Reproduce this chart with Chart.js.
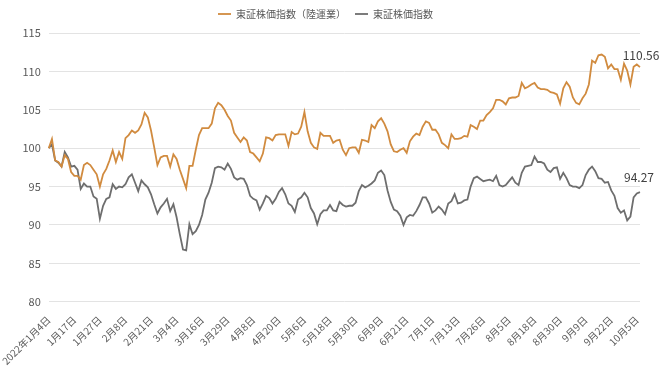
<!DOCTYPE html>
<html>
<head>
<meta charset="utf-8">
<script src="https://cdn.jsdelivr.net/npm/chart.js@4.4.0/dist/chart.umd.min.js"></script>
<style>
html,body{margin:0;padding:0;background:#fff;}
#wrap{width:660px;height:371px;}
</style>
</head>
<body>
<div id="wrap"><canvas id="c" width="660" height="371"></canvas></div>
<script>
// trading days 2022/1/4 ~ 10/6 (TSE holidays excluded)
const startDate = '2022-01-04';
const dayCount = 186;
const holidays = ['1-10','2-11','2-23','3-21','4-29','5-3','5-4','5-5','7-18','8-11','9-19','9-23'];

const seriesNames = ['東証株価指数（陸運業）','東証株価指数'];

const rikuun = [
100.0,101.2,98.4,98.2,97.6,99.1,98.6,96.9,96.4,96.4,
95.9,97.8,98.1,97.8,97.2,96.6,95.0,96.6,97.3,98.4,
99.7,98.2,99.5,98.6,101.3,101.7,102.3,102.0,102.3,103.1,
104.6,104.0,102.3,100.1,97.8,98.8,99.0,99.0,97.6,99.2,
98.6,97.2,96.0,94.8,97.7,97.7,99.8,101.7,102.6,102.6,
102.6,103.2,105.2,105.9,105.6,105.0,104.2,103.6,102.0,101.4,
100.8,101.4,101.0,99.5,99.3,98.8,98.3,99.3,101.4,101.3,
101.0,101.7,101.8,101.8,101.8,100.3,102.1,101.8,101.9,102.8,
104.7,102.2,100.7,100.1,99.9,102.0,101.6,101.6,101.6,100.7,
101.0,101.1,99.8,99.1,100.0,100.1,100.1,99.4,101.1,101.0,
100.8,103.0,102.6,103.5,103.9,103.2,102.2,100.5,99.6,99.5,
99.8,100.0,99.4,100.9,101.5,101.9,101.7,102.8,103.5,103.3,
102.4,102.4,101.8,100.7,100.4,100.0,101.8,101.2,101.2,101.3,
101.6,101.5,103.0,102.8,102.5,103.6,103.6,104.3,104.7,105.2,
106.3,106.3,106.1,105.7,106.5,106.6,106.6,106.8,108.5,107.8,
108.0,108.3,108.5,107.9,107.7,107.7,107.6,107.3,107.2,107.0,
105.8,107.8,108.6,108.0,106.6,105.9,105.7,106.5,107.1,108.3,
111.4,111.1,112.1,112.2,111.9,110.4,110.9,110.3,110.3,108.9,
111.0,110.1,108.3,110.6,110.9,110.56
];

const topix = [
100.0,100.5,98.4,98.1,97.6,99.5,98.8,97.6,97.7,97.2,
94.7,95.4,95.0,95.0,93.7,93.4,90.8,92.5,93.4,93.6,
95.3,94.7,95.0,94.9,95.3,96.2,96.6,95.5,94.4,95.8,
95.3,94.9,94.0,92.7,91.5,92.3,92.8,93.4,91.8,92.7,
91.0,88.8,86.8,86.7,90.1,88.8,89.2,90.0,91.3,93.3,
94.2,95.5,97.4,97.6,97.5,97.2,98.0,97.3,96.2,95.9,
96.1,96.0,95.2,93.8,93.4,93.2,92.0,92.8,93.8,93.5,
92.8,93.4,94.3,94.8,94.0,92.8,92.5,91.7,93.3,93.6,
94.2,93.6,92.2,91.5,90.1,91.4,91.9,91.9,92.6,91.9,
91.8,93.0,92.6,92.4,92.5,92.5,92.9,94.4,95.2,94.9,
95.1,95.4,95.8,96.8,97.1,96.5,94.5,93.0,92.0,91.8,
91.2,90.0,91.0,91.3,91.2,91.8,92.6,93.6,93.6,92.8,
91.6,91.9,92.4,92.0,91.4,92.8,93.1,94.0,92.8,92.9,
93.2,93.3,95.0,96.1,96.3,96.0,95.7,95.8,95.9,95.7,
96.4,95.2,95.0,95.2,95.7,96.2,95.5,95.2,96.8,97.6,
97.7,97.8,98.9,98.2,98.2,98.0,97.2,96.9,97.4,97.5,
96.0,96.8,96.1,95.2,95.0,95.0,94.8,95.2,96.5,97.2,
97.6,97.0,96.1,96.0,95.5,95.6,94.5,93.8,92.2,91.6,
91.9,90.6,91.1,93.6,94.1,94.27
];

const lineColors = ['#D18B3F','#6E6E6E'];

// build category labels (trading days)
const labels = [];
const d = new Date(startDate + 'T00:00:00');
while (labels.length < dayCount) {
  const wd = d.getDay();
  const key = (d.getMonth()+1) + '-' + d.getDate();
  if (wd !== 0 && wd !== 6 && !holidays.includes(key)) {
    labels.push({y:d.getFullYear(), m:d.getMonth()+1, d:d.getDate()});
  }
  d.setDate(d.getDate()+1);
}
const catLabels = labels.map((t,i)=> i===0 ? t.y+'年'+t.m+'月'+t.d+'日' : t.m+'月'+t.d+'日');

const font = "'Noto Sans CJK JP', sans-serif";

// a bit of space under the legend
const legendGap = {
  id:'legendGap',
  beforeInit(chart){
    const fit = chart.legend.fit;
    chart.legend.fit = function(){
      fit.bind(chart.legend)();
      this.height += 4;
    };
  }
};

const endLabels = {
  id:'endLabels',
  afterDatasetsDraw(chart){
    const ctx = chart.ctx;
    ctx.save();
    ctx.font = '12px ' + font;
    ctx.fillStyle = '#404040';
    ctx.textAlign = 'center';
    ctx.textBaseline = 'alphabetic';
    chart.data.datasets.forEach((ds,i)=>{
      const meta = chart.getDatasetMeta(i);
      const p = meta.data[meta.data.length-1];
      const v = ds.data[ds.data.length-1];
      ctx.fillText(v.toFixed(2), p.x + (i===0 ? 1 : -1), p.y - (i===0 ? 7 : 10));
    });
    ctx.restore();
  }
};

new Chart(document.getElementById('c'),{
  type:'line',
  data:{
    labels:catLabels,
    datasets:[
      {label:seriesNames[0],data:rikuun,borderColor:lineColors[0],backgroundColor:lineColors[0],borderWidth:1.8,pointRadius:0,tension:0},
      {label:seriesNames[1],data:topix,borderColor:lineColors[1],backgroundColor:lineColors[1],borderWidth:1.8,pointRadius:0,tension:0}
    ]
  },
  options:{
    responsive:false,
    animation:false,
    layout:{padding:{left:11,right:20,top:0,bottom:0}},
    plugins:{
      legend:{
        position:'top',
        labels:{
          font:{family:font,size:10},
          color:'#595959',
          usePointStyle:true,
          pointStyle:'line',
          pointStyleWidth:13,
          padding:9
        }
      },
      tooltip:{enabled:false}
    },
    scales:{
      x:{
        offset:false,
        grid:{display:false},
        border:{display:false},
        ticks:{
          autoSkip:false,
          minRotation:45,
          maxRotation:45,
          font:{family:font,size:10},
          color:'#595959',
          padding:4,
          callback:(v,i)=> i%8===0 ? catLabels[i] : null
        }
      },
      y:{
        min:80,max:115,
        grid:{color:'#E3E3E3',drawTicks:false},
        border:{display:false},
        ticks:{stepSize:5,font:{family:font,size:11},color:'#595959',padding:8}
      }
    }
  },
  plugins:[legendGap,endLabels]
});
</script>
</body>
</html>
